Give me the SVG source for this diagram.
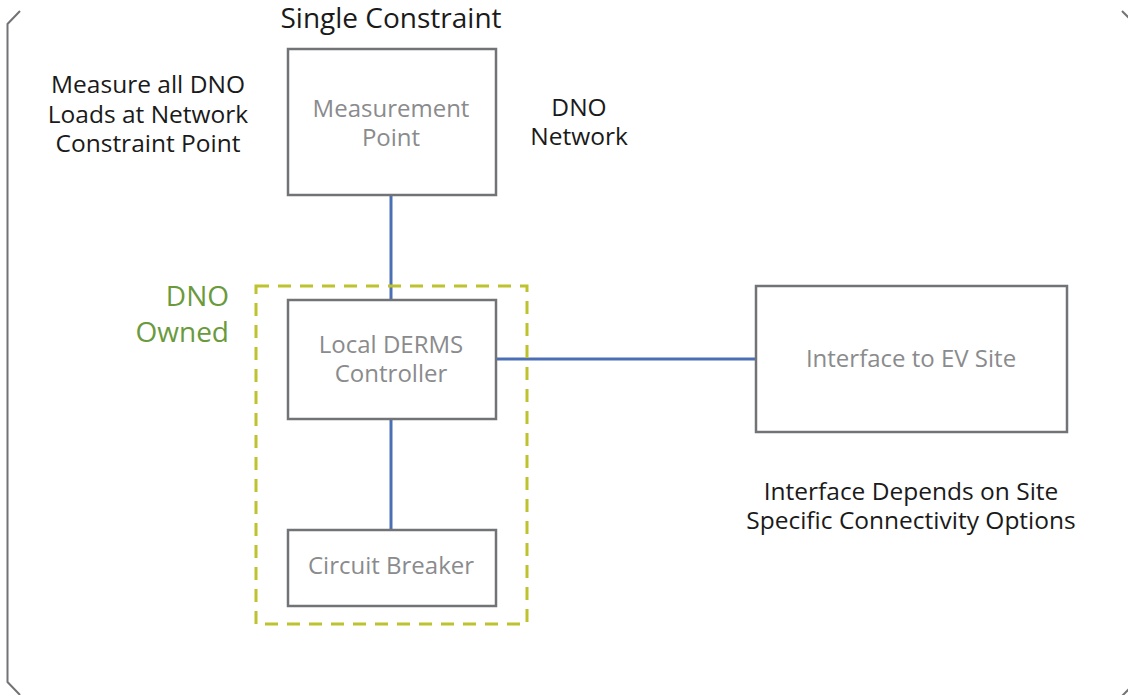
<svg xmlns="http://www.w3.org/2000/svg" width="1128" height="695" viewBox="0 0 1128 695">
<style>
.box{fill:#fff;stroke:#727376;stroke-width:2.5}
.lbl{font-family:"Open Sans","Liberation Sans",sans-serif;fill:#8a8b8d;font-size:24px;text-anchor:middle;font-weight:500}
.note{font-family:"Open Sans","Liberation Sans",sans-serif;fill:#1a1a1a;font-size:24.5px;text-anchor:middle;font-weight:500}
.own{font-family:"Open Sans","Liberation Sans",sans-serif;font-size:28px;fill:#6a9a3c;text-anchor:end;font-weight:500}
.conn{stroke:#4a6fb5;stroke-width:3;fill:none}
.frame{fill:none;stroke:#727376;stroke-width:2}
</style>
<rect width="1128" height="695" fill="#fff"/>
<g id="frame">
<polyline class="frame" points="20,11 7.5,24 7.5,682 20,695"/>
<polyline class="frame" points="1122,11 1129,18"/>
<polyline class="frame" points="1129,689 1122,696"/>
</g>
<text class="note" x="391" y="28" style="font-size:28px">Single Constraint</text>
<g id="connectors">
<line class="conn" x1="391" y1="195" x2="391" y2="300"/>
<line class="conn" x1="391" y1="419" x2="391" y2="530"/>
<line class="conn" x1="496" y1="359" x2="756" y2="359"/>
</g>
<g id="dno-owned">
<rect x="256" y="286" width="271" height="338" fill="none" stroke="#bec22e" stroke-width="3" stroke-dasharray="13,9"/>
<text class="own" x="229" y="306">DNO</text>
<text class="own" x="229" y="342">Owned</text>
</g>
<g id="measurement-point">
<rect class="box" x="288" y="49" width="208" height="146"/>
<text class="lbl" x="391" y="117">Measurement</text>
<text class="lbl" x="391" y="146">Point</text>
</g>
<g id="local-derms">
<rect class="box" x="288" y="300" width="208" height="119"/>
<text class="lbl" x="391" y="353">Local DERMS</text>
<text class="lbl" x="391" y="382">Controller</text>
</g>
<g id="circuit-breaker">
<rect class="box" x="288" y="530" width="208" height="76"/>
<text class="lbl" x="391" y="574">Circuit Breaker</text>
</g>
<g id="interface-ev">
<rect class="box" x="756" y="286" width="311" height="146"/>
<text class="lbl" x="911" y="367">Interface to EV Site</text>
</g>
<g id="note-measure">
<text class="note" x="148" y="93">Measure all DNO</text>
<text class="note" x="148" y="123">Loads at Network</text>
<text class="note" x="148" y="152">Constraint Point</text>
</g>
<g id="note-dno-network">
<text class="note" x="579" y="116">DNO</text>
<text class="note" x="579" y="145">Network</text>
</g>
<g id="note-interface">
<text class="note" x="911" y="500">Interface Depends on Site</text>
<text class="note" x="911" y="529">Specific Connectivity Options</text>
</g>
</svg>
